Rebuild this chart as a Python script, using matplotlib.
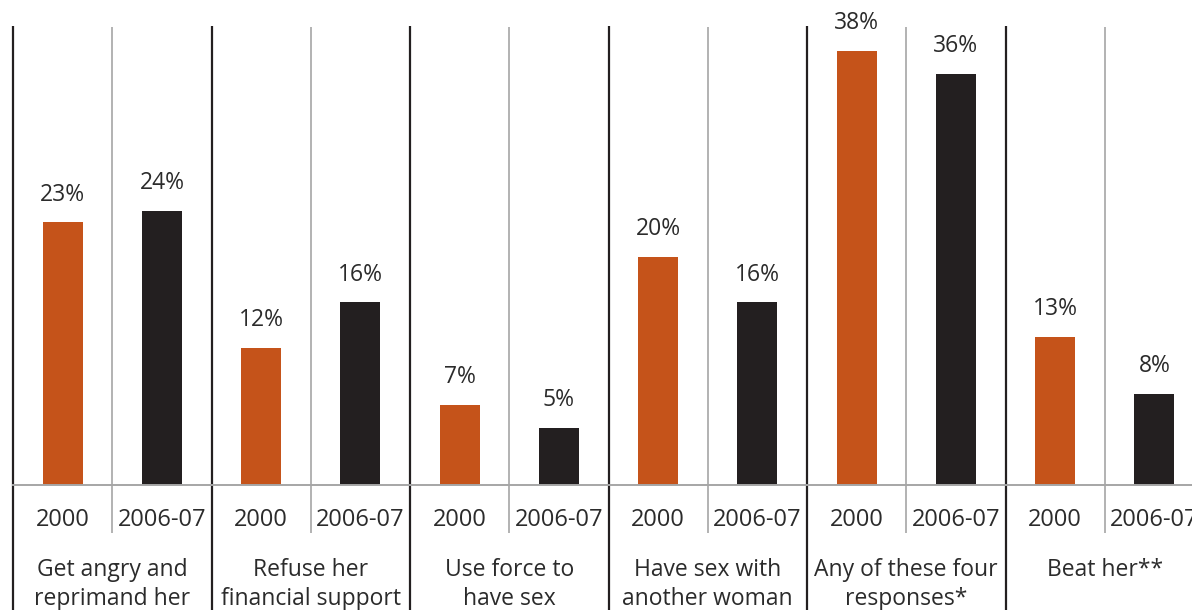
import matplotlib
matplotlib.use("Agg")
import matplotlib.pyplot as plt

categories = [
    "Get angry and\nreprimand her",
    "Refuse her\nfinancial support",
    "Use force to\nhave sex",
    "Have sex with\nanother woman",
    "Any of these four\nresponses*",
    "Beat her**",
]
years = ["2000", "2006-07"]
values_2000 = [23, 12, 7, 20, 38, 13]
values_2006 = [24, 16, 5, 16, 36, 8]

ORANGE = "#c5531a"
BLACK = "#231f20"
TEXT = "#2b2b2b"
GRID = "#a6a6a6"

plt.rcParams["font.family"] = ["Open Sans", "DejaVu Sans"]

W, H = 1192, 610
fig = plt.figure(figsize=(W / 100, H / 100), dpi=100)
ax = fig.add_axes([0, 0, 1, 1])

group_px = 198.5
left_px = 13
base_px = 125  # baseline height from bottom, pixels
px_per_unit = 11.42

ax.set_xlim(-left_px / group_px, (W - left_px) / group_px)
ax.set_ylim(-base_px / px_per_unit, (H - base_px) / px_per_unit)
ax.axis("off")

bar_w = 40 / group_px
n = len(categories)
for i in range(n):
    for j, (vals, col) in enumerate([(values_2000, ORANGE), (values_2006, BLACK)]):
        xc = i + 0.25 + 0.5 * j
        v = vals[i]
        ax.bar(xc, v, width=bar_w, color=col, zorder=3)
        ax.annotate(f"{v}%", (xc, v), xytext=(0, 20), textcoords="offset points",
                    ha="center", va="center", fontsize=16.5, color=TEXT)
        ax.text(xc, -3.1, years[j], ha="center", va="center", fontsize=17, color=TEXT)
    # separators
    ax.plot([i, i], [40.2, -20], color=BLACK, lw=1.6, zorder=2, solid_capstyle="butt")
    ax.plot([i + 0.5, i + 0.5], [40.1, -4.2], color=GRID, lw=1.2, zorder=2, solid_capstyle="butt")
    ax.text(i + 0.5, -6.4, categories[i], ha="center", va="top", fontsize=16.5,
            color=TEXT, linespacing=1.3)

ax.axhline(0, xmin=left_px / W, xmax=1, color=GRID, lw=1.4, zorder=4)

fig.savefig("out.png", dpi=100)
